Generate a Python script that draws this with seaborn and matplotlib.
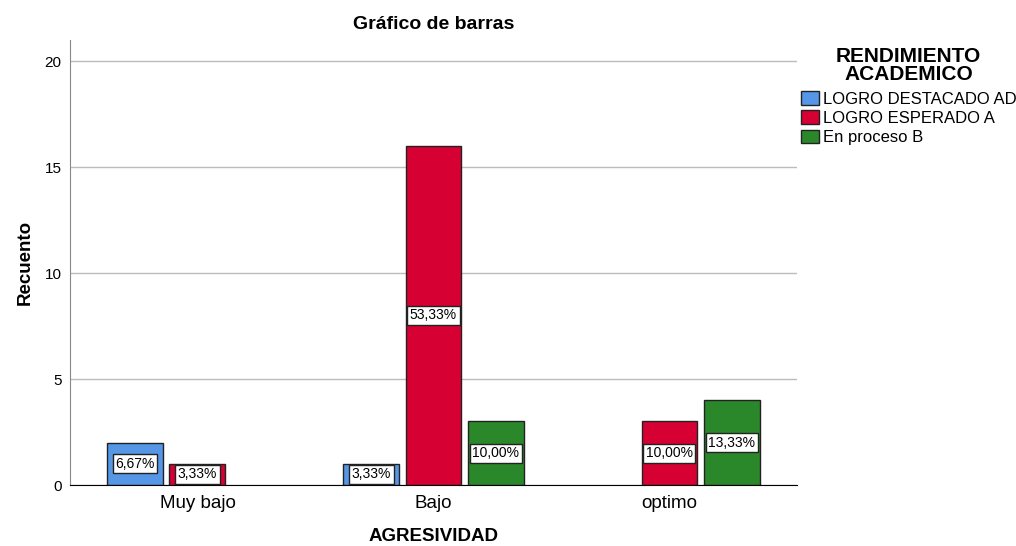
import pandas as pd
import seaborn as sns
import matplotlib.pyplot as plt

# Data
agresividad = ["Muy bajo", "Muy bajo", "Bajo", "Bajo", "Bajo", "optimo", "optimo"]
rendimiento = ["LOGRO DESTACADO AD", "LOGRO ESPERADO A",
               "LOGRO DESTACADO AD", "LOGRO ESPERADO A", "En proceso B",
               "LOGRO ESPERADO A", "En proceso B"]
recuento = [2, 1, 1, 16, 3, 3, 4]
porcentaje = ["6,67%", "3,33%", "3,33%", "53,33%", "10,00%", "10,00%", "13,33%"]

x_order = ["Muy bajo", "Bajo", "optimo"]
hue_order = ["LOGRO DESTACADO AD", "LOGRO ESPERADO A", "En proceso B"]
colores = ["#5596E6", "#D70032", "#2A882A"]

df = pd.DataFrame({"AGRESIVIDAD": agresividad, "RENDIMIENTO": rendimiento,
                   "Recuento": recuento, "pct": porcentaje})

sns.set_style("white")
plt.rcParams['font.family'] = ['Liberation Sans', 'DejaVu Sans']
plt.rcParams['text.color'] = 'black'
plt.rcParams['xtick.color'] = 'black'
plt.rcParams['ytick.color'] = 'black'
plt.rcParams['axes.labelcolor'] = 'black'

fig = plt.figure(figsize=(10.16, 5.46), dpi=100)
ax = fig.add_axes([0.0689, 0.1117, 0.7155, 0.815])

sns.barplot(data=df, x="AGRESIVIDAD", y="Recuento", hue="RENDIMIENTO",
            order=x_order, hue_order=hue_order, palette=colores, saturation=1,
            width=0.79, gap=0.1, edgecolor="#222222", linewidth=1,
            errorbar=None, ax=ax)

# percentage labels in white boxes at mid-height
for cont, hue in zip(ax.containers, hue_order):
    sub = df[df["RENDIMIENTO"] == hue].set_index("AGRESIVIDAD")
    cats = [c for c in x_order if c in sub.index]
    for bar, c in zip(cont, cats):
        h = bar.get_height()
        ax.text(bar.get_x() + bar.get_width() / 2, h / 2, sub.loc[c, "pct"],
                ha="center", va="center", fontsize=10, color="black",
                bbox=dict(boxstyle="square,pad=0.18", fc="white", ec="#222222", lw=1))

ax.set_ylim(0, 21)
ax.set_xlim(-0.54, 2.54)
ax.set_yticks([0, 5, 10, 15, 20])
ax.yaxis.grid(True, color="#bcbcbc", lw=1)
ax.set_axisbelow(True)
ax.tick_params(axis="y", labelsize=11, length=0, pad=6)
ax.tick_params(axis="x", labelsize=13.5, length=0, pad=7)
for s in ["top", "right"]:
    ax.spines[s].set_visible(False)
ax.spines["left"].set_color("#888888")
ax.spines["bottom"].set_color("black")

ax.set_title("Gráfico de barras", fontsize=14, fontweight="bold", pad=8)
ax.set_ylabel("Recuento", fontsize=13.5, fontweight="bold", labelpad=8)
ax.set_xlabel("AGRESIVIDAD", fontsize=13.5, fontweight="bold", labelpad=12)

leg = ax.legend(title="RENDIMIENTO\nACADEMICO", loc="upper left",
                bbox_to_anchor=(1.005, 0.985), frameon=False, fontsize=12,
                title_fontproperties={"weight": "bold", "size": 15},
                handlelength=1.1, handleheight=0.9, handletextpad=0.25,
                labelspacing=0.22, borderaxespad=0, borderpad=0)
leg.get_title().set_multialignment("center")
leg.get_title().set_linespacing(0.95)
leg._legend_box.sep = 5
for p in leg.get_patches():
    p.set_edgecolor("#222222")

fig.savefig("out.png", dpi=100)
